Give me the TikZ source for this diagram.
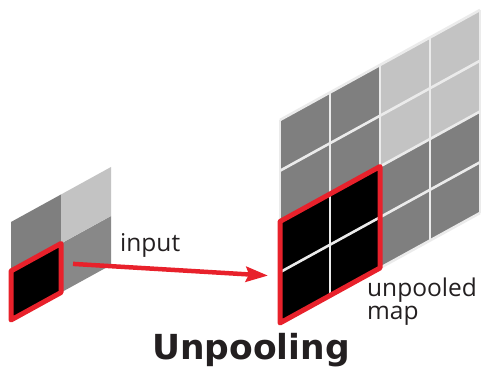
\documentclass[tikz,border=0pt]{standalone}
\usepackage{fontspec}
\setmainfont{Open Sans}
\newfontfamily\titlefont{DejaVu Sans}
\usetikzlibrary{arrows.meta}
\definecolor{redf}{HTML}{E8212B}
\definecolor{darkc}{HTML}{7F7F7F}
\definecolor{darkd}{HTML}{888888}
\definecolor{lightc}{HTML}{C3C3C3}
\definecolor{sepc}{HTML}{EBEBEB}
\definecolor{txt}{HTML}{231F20}
\tikzset{
  redframe/.style={draw=redf, line width=5pt, line join=round},
  sepline/.style={draw=sepc, line width=2.6pt},
  lbl/.style={text=txt, inner sep=0pt, anchor=base west, font=\fontsize{24.5}{23}\selectfont},
  redarrow/.style={draw=redf, line width=4.5pt, -{Stealth[length=22pt,width=15pt,inset=3pt]}}
}
\begin{document}
\begin{tikzpicture}[x=1pt,y=1pt]
\useasboundingbox (0,0) rectangle (483,369);
% small input grid
\begin{scope}[shift={(11,49)}, cm={1,0.55,0,1,(0,0)}]
  \fill[black]  (0,0)  rectangle (50,49);
  \fill[darkd]  (50,0) rectangle (100,49);
  \fill[darkc]  (0,49) rectangle (50,98);
  \fill[lightc] (50,49) rectangle (100,98);
  \draw[redframe] (0,0) rectangle (50,49);
  \coordinate (src) at (62,22);
\end{scope}
% big unpooled grid
\begin{scope}[shift={(280,46)}, cm={1,0.55,0,1,(0,0)}]
  \fill[black]  (0,0)     rectangle (100,101.5);
  \fill[darkc]  (100,0)   rectangle (200,101.5);
  \fill[darkc]  (0,101.5) rectangle (100,203);
  \fill[lightc] (100,101.5) rectangle (200,203);
  \foreach \i in {0,50,100,150,200} \draw[sepline] (\i,0) -- (\i,203);
  \foreach \j in {0,50.75,101.5,152.25,203} \draw[sepline] (0,\j) -- (200,\j);
  \draw[redframe] (0,0) rectangle (100,101.5);
  \coordinate (dst) at (-12,54);
\end{scope}
\draw[redarrow] (src) -- (dst);
\node[lbl] (input) at (120,117) {input};
\node[lbl] (unp) at (367,72) {unpooled};
\node[lbl] (map) at (367,49) {map};
\node[text=txt, inner sep=0pt, anchor=base west, font=\fontsize{34.5}{36}\titlefont\bfseries] (title) at (152,9) {Unpooling};
\end{tikzpicture}
\end{document}
